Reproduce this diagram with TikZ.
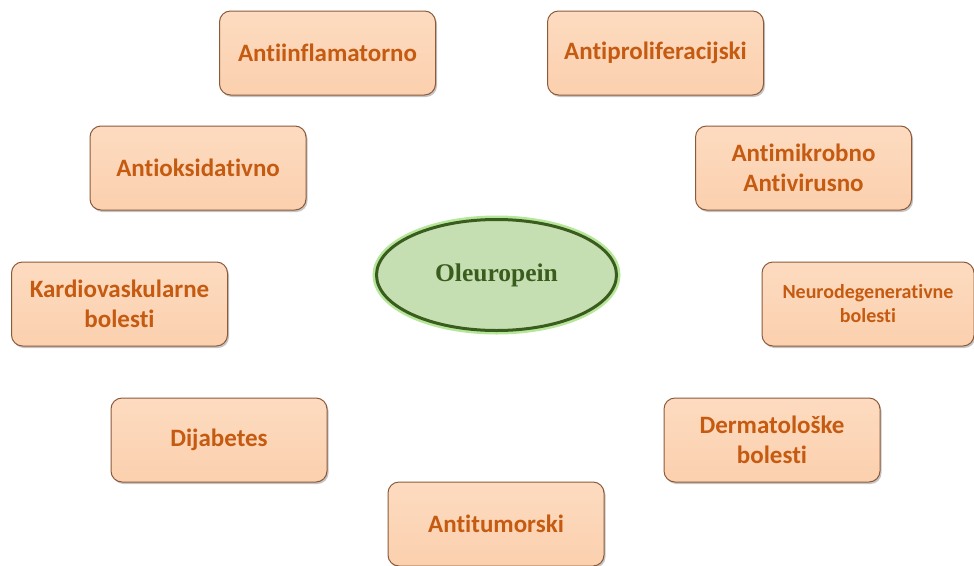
\documentclass[tikz,border=0pt]{standalone}
\usepackage{fontspec}
\setmainfont[Ligatures=NoCommon]{Carlito}
\newfontfamily\serifbold{Liberation Serif}
\usetikzlibrary{shapes.geometric,shadows}

\definecolor{boxtext}{HTML}{C55A11}
\definecolor{boxline}{HTML}{8C5A3A}
\definecolor{boxtop}{HTML}{FDDBC0}
\definecolor{boxbot}{HTML}{FBD0AE}
\definecolor{ovalfill}{HTML}{C5DFB3}
\definecolor{ovalline}{HTML}{3A5D1E}
\definecolor{ovalglow}{HTML}{B5E69A}

\begin{document}
\begin{tikzpicture}[x=1pt,y=-1pt]
\useasboundingbox (0,0) rectangle (974,565);
\begin{scope}[every node/.style={rectangle,rounded corners=11pt,draw=boxline,line width=1pt,
      top color=boxtop,bottom color=boxbot,minimum width=216pt,minimum height=84pt,
      align=center,font=\bfseries\fontsize{25}{30}\selectfont,text=boxtext,
      drop shadow={shadow xshift=1.5pt,shadow yshift=-2pt,fill=black!45}}]
    \node (upal) at (327.5,53) {Antiinflamatorno};
    \node (prolif) at (655.5,53) {Antiproliferacijski};
    \node (oks) at (198,168) {Antioksidativno};
    \node (mikro) at (803.5,168) {Antimikrobno\\Antivirusno};
    \node (kardio) at (119.5,304) {Kardiovaskularne\\bolesti};
    \node[minimum width=212pt,font=\bfseries\fontsize{20}{24}\selectfont] (neuro) at (868,304) {Neurodegenerativne\\bolesti};
    \node (dijab) at (219,440) {Dijabetes};
    \node (derma) at (772,440) {Dermatološke\\bolesti};
    \node (tumor) at (496,524) {Antitumorski};
\end{scope}
\node[ellipse,fill=ovalfill,draw=ovalline,line width=3pt,minimum width=240pt,minimum height=111pt,
      preaction={draw=ovalglow,line width=8pt},
      font=\serifbold\bfseries\fontsize{25.5}{30}\selectfont,text=ovalline] (oleu) at (496.5,275) {Oleuropein};
\end{tikzpicture}
\end{document}
